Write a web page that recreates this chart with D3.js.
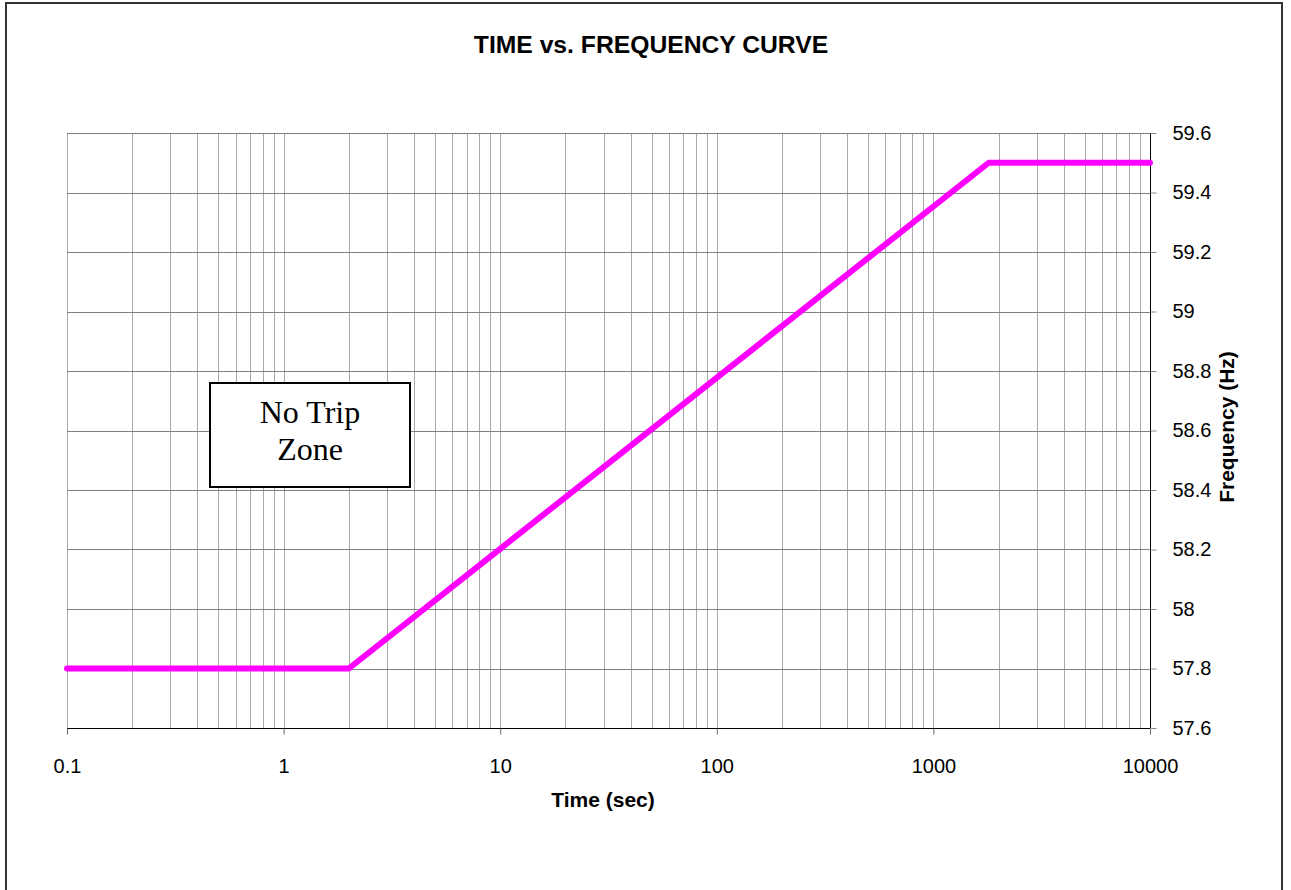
<!DOCTYPE html>
<html>
<head>
<meta charset="utf-8">
<script src="https://cdn.jsdelivr.net/npm/d3@7"></script>
<style>
  html, body { margin: 0; padding: 0; background: #fff; }
  svg { display: block; }
</style>
</head>
<body>
<svg id="chart" width="1291" height="890"></svg>
<script>
// ---- data ----
const timeSec = [0.1, 2, 1800, 10000];
const freqHz = [57.8, 57.8, 59.5, 59.5];
const xTickValues = [0.1, 1, 10, 100, 1000, 10000];
const xTickLabels = ["0.1", "1", "10", "100", "1000", "10000"];
const yTickValues = [57.6, 57.8, 58, 58.2, 58.4, 58.6, 58.8, 59, 59.2, 59.4, 59.6];
const yTickLabels = ["57.6", "57.8", "58", "58.2", "58.4", "58.6", "58.8", "59", "59.2", "59.4", "59.6"];
const titleText = "TIME vs. FREQUENCY CURVE";
const xTitle = "Time (sec)";
const yTitle = "Frequency (Hz)";
const zoneLines = ["No Trip", "Zone"];

// ---- layout ----
const svg = d3.select("#chart");
const L = 67, R = 1150, T = 133, B = 728;

const x = d3.scaleLog().domain([0.1, 10000]).range([L, R]);
const y = d3.scaleLinear().domain([57.6, 59.6]).range([B, T]);

// outer border
svg.append("rect").attr("x", 6).attr("y", 3).attr("width", 1276).attr("height", 900)
  .attr("fill", "#fff").attr("stroke", "#333").attr("stroke-width", 2);

// minor + major vertical grid lines
const vGrid = [];
for (let e = -1; e < 4; e++) {
  for (let k = 1; k <= 9; k++) vGrid.push(k * Math.pow(10, e));
}
vGrid.push(10000);
svg.append("g").selectAll("line").data(vGrid).join("line")
  .attr("x1", d => Math.round(x(d)) + 0.5).attr("x2", d => Math.round(x(d)) + 0.5)
  .attr("y1", T).attr("y2", B)
  .attr("stroke", "#a8a8a8").attr("stroke-width", 1);

// horizontal grid lines
svg.append("g").selectAll("line").data(yTickValues).join("line")
  .attr("x1", L).attr("x2", R)
  .attr("y1", d => Math.round(y(d)) + 0.5).attr("y2", d => Math.round(y(d)) + 0.5)
  .attr("stroke", "#808080").attr("stroke-width", 1);

// bottom axis
const xAxis = d3.axisBottom(x).tickValues(xTickValues)
  .tickFormat((d, i) => xTickLabels[i]).tickSize(6).tickPadding(24);
const gx = svg.append("g").attr("transform", `translate(0,${B + 0.5})`).call(xAxis);
gx.select(".domain").attr("stroke", "#000").attr("d", `M${L},0H${R}`);
gx.selectAll(".tick line").attr("stroke", "#666");
gx.selectAll(".tick text").attr("font-family", "Arial, 'Liberation Sans', sans-serif")
  .attr("font-size", 20).attr("fill", "#000");

// right axis
const yAxis = d3.axisRight(y).tickValues(yTickValues)
  .tickFormat((d, i) => yTickLabels[i]).tickSize(6).tickPadding(16);
const gy = svg.append("g").attr("transform", `translate(${R + 0.5},0)`).call(yAxis);
gy.select(".domain").attr("stroke", "#000").attr("d", `M0,${T}V${B}`);
gy.selectAll(".tick line").attr("stroke", "#888");
gy.selectAll(".tick text").attr("font-family", "Arial, 'Liberation Sans', sans-serif")
  .attr("font-size", 20).attr("fill", "#000");

// No Trip Zone box
svg.append("rect").attr("x", 210).attr("y", 383).attr("width", 200).attr("height", 104)
  .attr("fill", "#fff").attr("stroke", "#000").attr("stroke-width", 2);
svg.append("g").selectAll("text").data(zoneLines).join("text")
  .attr("x", 310).attr("y", (d, i) => 423 + i * 37)
  .attr("text-anchor", "middle")
  .attr("font-family", "'Times New Roman', 'Liberation Serif', serif")
  .attr("font-size", 32).attr("fill", "#000")
  .text(d => d);

// curve
const line = d3.line().x((d, i) => x(timeSec[i])).y((d, i) => y(freqHz[i]));
svg.append("path").datum(timeSec).attr("d", line)
  .attr("fill", "none").attr("stroke", "#ff00ff").attr("stroke-width", 6)
  .attr("stroke-linejoin", "round").attr("stroke-linecap", "round");

// titles
svg.append("text").attr("x", 651).attr("y", 53).attr("text-anchor", "middle")
  .attr("font-family", "Arial, 'Liberation Sans', sans-serif").attr("font-weight", "bold")
  .attr("font-size", 24.7).text(titleText);
svg.append("text").attr("x", 603).attr("y", 807).attr("text-anchor", "middle")
  .attr("font-family", "Arial, 'Liberation Sans', sans-serif").attr("font-weight", "bold")
  .attr("font-size", 21).text(xTitle);
svg.append("text").attr("transform", "translate(1234,427) rotate(-90)").attr("text-anchor", "middle")
  .attr("font-family", "Arial, 'Liberation Sans', sans-serif").attr("font-weight", "bold")
  .attr("font-size", 21).text(yTitle);
</script>
</body>
</html>
